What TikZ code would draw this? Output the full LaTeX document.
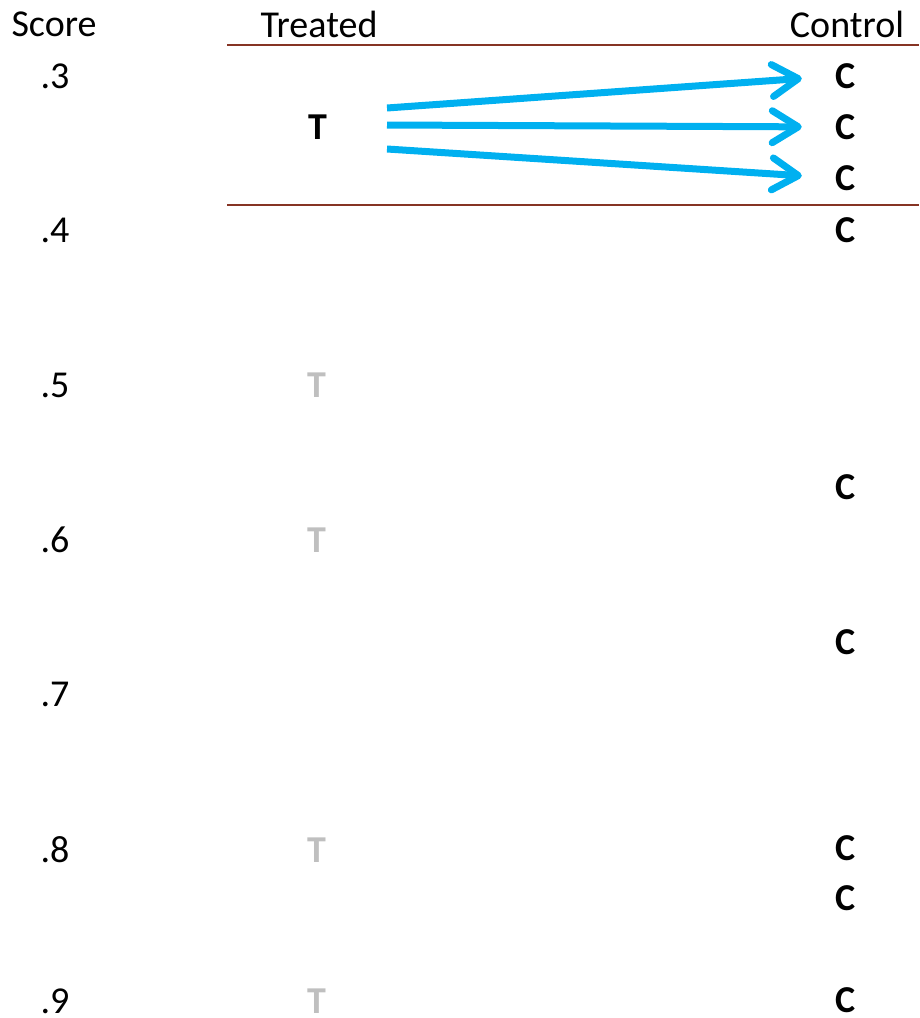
\documentclass[tikz,border=0pt]{standalone}
\usepackage{fontspec}
\setmainfont{Carlito}
\usetikzlibrary{arrows.meta}
\definecolor{rule}{RGB}{134,52,36}
\definecolor{link}{RGB}{0,176,240}
\definecolor{faded}{RGB}{191,191,191}
\tikzset{
  x=1pt, y=-1pt,
  lbl/.style={inner sep=0pt, font=\fontsize{38}{45}\selectfont},
  unit/.style={inner sep=0pt, font=\fontsize{38}{45}\selectfont\bfseries},
  dim/.style={unit, text=faded},
  band/.style={draw=rule, line width=1.6pt},
  match/.style={draw=link, line width=7pt,
    -{Straight Barb[round,length=26pt,width=32pt]}, shorten >=34pt},
}
\begin{document}
\begin{tikzpicture}
\useasboundingbox (0,0) rectangle (919,1018);

% column headers
\node[lbl] (hs) at (54,24) {Score};
\node[lbl] (ht) at (319,24) {Treated};
\node[lbl] (hc) at (847,24) {Control};

% score axis
\node[lbl] (s3) at (55,76) {.3};
\node[lbl] (s4) at (55,230) {.4};
\node[lbl] (s5) at (55,385) {.5};
\node[lbl] (s6) at (55,540) {.6};
\node[lbl] (s7) at (55,694) {.7};
\node[lbl] (s8) at (55,850) {.8};
\node[lbl] (s9) at (55,1001) {.9};

% band of matching
\coordinate (bl1) at (227,45);
\coordinate (br1) at (919,45);
\coordinate (bl2) at (227,205);
\coordinate (br2) at (919,205);
\draw[band] (bl1) -- (br1);
\draw[band] (bl2) -- (br2);

% treated units
\node[unit] (t1) at (318,127) {T};
\node[dim] (t2) at (317,385) {T};
\node[dim] (t3) at (317,540) {T};
\node[dim] (t4) at (317,850) {T};
\node[dim] (t5) at (317,1001) {T};

% control units
\node[unit] (c1) at (846,76) {C};
\node[unit] (c2) at (846,127) {C};
\node[unit] (c3) at (846,178) {C};
\node[unit] (c4) at (846,230) {C};
\node[unit] (c5) at (846,487) {C};
\node[unit] (c6) at (846,642) {C};
\node[unit] (c7) at (846,848) {C};
\node[unit] (c8) at (846,898) {C};
\node[unit] (c9) at (846,1000) {C};

% matches of the treated unit
\coordinate (m1) at (387,108);
\coordinate (m2) at (387,125);
\coordinate (m3) at (387,149);
\draw[match] (m1) -- (c1.west);
\draw[match] (m2) -- (c2.west);
\draw[match] (m3) -- (c3.west);
\end{tikzpicture}
\end{document}
